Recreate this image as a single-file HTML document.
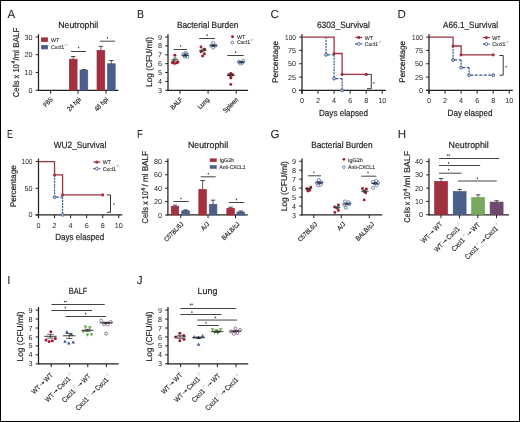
<!DOCTYPE html>
<html><head><meta charset="utf-8"><style>
html,body{margin:0;padding:0;background:#fff;}
body{width:520px;height:422px;overflow:hidden;}
svg{display:block;will-change:transform;font-family:"Liberation Sans",sans-serif;text-rendering:geometricPrecision;}

</style></head><body>
<svg width="520" height="422" viewBox="0 0 520 422" font-family="Liberation Sans, sans-serif">
<rect x="0" y="0" width="520" height="422" fill="#fff"/>
<rect x="0.5" y="0.5" width="519" height="421" fill="none" stroke="#000" stroke-width="1"/>
<text x="7.40" y="17.90" font-size="11.6" text-anchor="start" fill="#231f20" stroke="#231f20" stroke-width="0.05">A</text>
<text x="137.00" y="17.90" font-size="11.6" text-anchor="start" fill="#231f20" stroke="#231f20" textLength="7.00" lengthAdjust="spacingAndGlyphs" stroke-width="0.05">B</text>
<text x="270.40" y="17.90" font-size="11.6" text-anchor="start" fill="#231f20" stroke="#231f20" stroke-width="0.05">C</text>
<text x="397.60" y="17.90" font-size="11.6" text-anchor="start" fill="#231f20" stroke="#231f20" stroke-width="0.05">D</text>
<text x="7.00" y="137.90" font-size="11.6" text-anchor="start" fill="#231f20" stroke="#231f20" textLength="5.90" lengthAdjust="spacingAndGlyphs" stroke-width="0.05">E</text>
<text x="137.00" y="137.90" font-size="11.6" text-anchor="start" fill="#231f20" stroke="#231f20" textLength="5.80" lengthAdjust="spacingAndGlyphs" stroke-width="0.05">F</text>
<text x="270.40" y="137.90" font-size="11.6" text-anchor="start" fill="#231f20" stroke="#231f20" stroke-width="0.05">G</text>
<text x="397.80" y="137.90" font-size="11.6" text-anchor="start" fill="#231f20" stroke="#231f20" stroke-width="0.05">H</text>
<text x="7.20" y="283.70" font-size="11.6" text-anchor="start" fill="#231f20" stroke="#231f20" stroke-width="0.05">I</text>
<text x="136.80" y="283.70" font-size="11.6" text-anchor="start" fill="#231f20" stroke="#231f20" stroke-width="0.05">J</text>
<text x="58.20" y="28.40" font-size="9.1" text-anchor="start" fill="#231f20" stroke="#231f20" textLength="40.00" lengthAdjust="spacingAndGlyphs" stroke-width="0.2">Neutrophil</text>
<g transform="translate(19.00,97.20) rotate(-90)"><text x="0.00" y="0" font-size="8.5" fill="#231f20" stroke="#231f20" stroke-width="0.2" textLength="33.00" lengthAdjust="spacingAndGlyphs">Cells x 10</text><text x="33.60" y="-3.6" font-size="5.6" fill="#231f20" stroke="#231f20" stroke-width="0.2" textLength="2.90" lengthAdjust="spacingAndGlyphs">4</text><text x="36.70" y="0" font-size="8.5" fill="#231f20" stroke="#231f20" stroke-width="0.2" textLength="32.80" lengthAdjust="spacingAndGlyphs">/ml BALF</text></g>
<line x1="38.50" y1="34.30" x2="38.50" y2="90.90" stroke="#231f20" stroke-width="1.25" stroke-linecap="butt"/>
<line x1="35.70" y1="90.20" x2="38.50" y2="90.20" stroke="#231f20" stroke-width="1.0" stroke-linecap="butt"/>
<text x="32.50" y="92.75" font-size="7.2" text-anchor="end" fill="#231f20" stroke="#231f20" stroke-width="0.0">0</text>
<line x1="35.70" y1="72.45" x2="38.50" y2="72.45" stroke="#231f20" stroke-width="1.0" stroke-linecap="butt"/>
<text x="32.50" y="75.00" font-size="7.2" text-anchor="end" fill="#231f20" stroke="#231f20" stroke-width="0.0">10</text>
<line x1="35.70" y1="54.70" x2="38.50" y2="54.70" stroke="#231f20" stroke-width="1.0" stroke-linecap="butt"/>
<text x="32.50" y="57.25" font-size="7.2" text-anchor="end" fill="#231f20" stroke="#231f20" stroke-width="0.0">20</text>
<line x1="35.70" y1="36.95" x2="38.50" y2="36.95" stroke="#231f20" stroke-width="1.0" stroke-linecap="butt"/>
<text x="32.50" y="39.50" font-size="7.2" text-anchor="end" fill="#231f20" stroke="#231f20" stroke-width="0.0">30</text>
<line x1="38.00" y1="90.40" x2="118.50" y2="90.40" stroke="#231f20" stroke-width="1.25" stroke-linecap="butt"/>
<line x1="50.60" y1="90.40" x2="50.60" y2="93.70" stroke="#231f20" stroke-width="1.0" stroke-linecap="butt"/>
<line x1="78.00" y1="90.40" x2="78.00" y2="93.70" stroke="#231f20" stroke-width="1.0" stroke-linecap="butt"/>
<line x1="106.00" y1="90.40" x2="106.00" y2="93.70" stroke="#231f20" stroke-width="1.0" stroke-linecap="butt"/>
<rect x="69.30" y="59.15" width="7.80" height="31.05" fill="#a3303f" stroke="#98283a" stroke-width="0.6"/>
<line x1="73.20" y1="56.50" x2="73.20" y2="59.15" stroke="#231f20" stroke-width="0.7" stroke-linecap="butt"/>
<line x1="71.00" y1="56.50" x2="75.40" y2="56.50" stroke="#231f20" stroke-width="0.8" stroke-linecap="butt"/>
<rect x="80.00" y="70.05" width="7.80" height="20.15" fill="#4b6088" stroke="#435a82" stroke-width="0.6"/>
<line x1="83.90" y1="69.40" x2="83.90" y2="70.05" stroke="#231f20" stroke-width="0.7" stroke-linecap="butt"/>
<line x1="81.70" y1="69.40" x2="86.10" y2="69.40" stroke="#231f20" stroke-width="0.8" stroke-linecap="butt"/>
<rect x="97.00" y="50.35" width="7.80" height="39.85" fill="#a3303f" stroke="#98283a" stroke-width="0.6"/>
<line x1="100.90" y1="46.30" x2="100.90" y2="50.35" stroke="#231f20" stroke-width="0.7" stroke-linecap="butt"/>
<line x1="98.70" y1="46.30" x2="103.10" y2="46.30" stroke="#231f20" stroke-width="0.8" stroke-linecap="butt"/>
<rect x="107.40" y="63.75" width="7.80" height="26.45" fill="#4b6088" stroke="#435a82" stroke-width="0.6"/>
<line x1="111.30" y1="60.50" x2="111.30" y2="63.75" stroke="#231f20" stroke-width="0.7" stroke-linecap="butt"/>
<line x1="109.10" y1="60.50" x2="113.50" y2="60.50" stroke="#231f20" stroke-width="0.8" stroke-linecap="butt"/>
<line x1="71.00" y1="51.50" x2="86.00" y2="51.50" stroke="#3a3a3a" stroke-width="0.95" stroke-linecap="butt"/>
<ellipse cx="78.60" cy="47.60" rx="0.65" ry="0.85" fill="#333"/>
<line x1="100.00" y1="41.20" x2="115.00" y2="41.20" stroke="#3a3a3a" stroke-width="0.95" stroke-linecap="butt"/>
<ellipse cx="107.50" cy="37.80" rx="0.65" ry="0.85" fill="#333"/>
<rect x="41.10" y="37.40" width="6.80" height="4.50" fill="#a3303f"/>
<rect x="41.10" y="45.10" width="6.80" height="4.20" fill="#4b6088"/>
<text x="51.00" y="41.80" font-size="5.3" text-anchor="start" fill="#231f20" stroke="#231f20" stroke-width="0.1">WT</text>
<text x="51.00" y="48.90" font-size="5.3" text-anchor="start" fill="#231f20" stroke="#231f20" stroke-width="0.1">Cxcl1<tspan font-size="3.8" dy="-3.1" fill="#7a7a7a" stroke="none">-/-</tspan></text>
<text transform="translate(53.30,100.00) rotate(-45)" font-size="6.6" text-anchor="end" fill="#231f20" stroke="#231f20" textLength="10.57" lengthAdjust="spacingAndGlyphs" stroke-width="0.18">PBS</text>
<text transform="translate(81.40,100.00) rotate(-45)" font-size="6.6" text-anchor="end" fill="#231f20" stroke="#231f20" textLength="16.54" lengthAdjust="spacingAndGlyphs" stroke-width="0.18">24 hpi</text>
<text transform="translate(108.60,100.00) rotate(-45)" font-size="6.6" text-anchor="end" fill="#231f20" stroke="#231f20" textLength="16.54" lengthAdjust="spacingAndGlyphs" stroke-width="0.18">48 hpi</text>
<text x="176.90" y="28.40" font-size="9.1" text-anchor="start" fill="#231f20" stroke="#231f20" textLength="61.60" lengthAdjust="spacingAndGlyphs" stroke-width="0.2">Bacterial Burden</text>
<text transform="translate(152.30,62.00) rotate(-90)" font-size="8.5" text-anchor="middle" fill="#231f20" stroke="#231f20" textLength="50.00" lengthAdjust="spacingAndGlyphs" stroke-width="0.2">Log (CFU/ml)</text>
<line x1="168.00" y1="34.30" x2="168.00" y2="90.90" stroke="#231f20" stroke-width="1.25" stroke-linecap="butt"/>
<line x1="165.20" y1="90.30" x2="168.00" y2="90.30" stroke="#231f20" stroke-width="1.0" stroke-linecap="butt"/>
<text x="162.00" y="92.85" font-size="7.2" text-anchor="end" fill="#231f20" stroke="#231f20" stroke-width="0.0">3</text>
<line x1="165.20" y1="81.42" x2="168.00" y2="81.42" stroke="#231f20" stroke-width="1.0" stroke-linecap="butt"/>
<text x="162.00" y="83.97" font-size="7.2" text-anchor="end" fill="#231f20" stroke="#231f20" stroke-width="0.0">4</text>
<line x1="165.20" y1="72.54" x2="168.00" y2="72.54" stroke="#231f20" stroke-width="1.0" stroke-linecap="butt"/>
<text x="162.00" y="75.09" font-size="7.2" text-anchor="end" fill="#231f20" stroke="#231f20" stroke-width="0.0">5</text>
<line x1="165.20" y1="63.66" x2="168.00" y2="63.66" stroke="#231f20" stroke-width="1.0" stroke-linecap="butt"/>
<text x="162.00" y="66.21" font-size="7.2" text-anchor="end" fill="#231f20" stroke="#231f20" stroke-width="0.0">6</text>
<line x1="165.20" y1="54.78" x2="168.00" y2="54.78" stroke="#231f20" stroke-width="1.0" stroke-linecap="butt"/>
<text x="162.00" y="57.33" font-size="7.2" text-anchor="end" fill="#231f20" stroke="#231f20" stroke-width="0.0">7</text>
<line x1="165.20" y1="45.90" x2="168.00" y2="45.90" stroke="#231f20" stroke-width="1.0" stroke-linecap="butt"/>
<text x="162.00" y="48.45" font-size="7.2" text-anchor="end" fill="#231f20" stroke="#231f20" stroke-width="0.0">8</text>
<line x1="165.20" y1="37.02" x2="168.00" y2="37.02" stroke="#231f20" stroke-width="1.0" stroke-linecap="butt"/>
<text x="162.00" y="39.57" font-size="7.2" text-anchor="end" fill="#231f20" stroke="#231f20" stroke-width="0.0">9</text>
<line x1="167.50" y1="90.40" x2="248.10" y2="90.40" stroke="#231f20" stroke-width="1.25" stroke-linecap="butt"/>
<line x1="180.00" y1="90.40" x2="180.00" y2="93.70" stroke="#231f20" stroke-width="1.0" stroke-linecap="butt"/>
<line x1="208.10" y1="90.40" x2="208.10" y2="93.70" stroke="#231f20" stroke-width="1.0" stroke-linecap="butt"/>
<line x1="236.20" y1="90.40" x2="236.20" y2="93.70" stroke="#231f20" stroke-width="1.0" stroke-linecap="butt"/>
<text transform="translate(182.90,100.00) rotate(-45)" font-size="6.6" text-anchor="end" fill="#231f20" stroke="#231f20" textLength="14.03" lengthAdjust="spacingAndGlyphs" stroke-width="0.18">BALF</text>
<text transform="translate(209.70,100.00) rotate(-45)" font-size="6.6" text-anchor="end" fill="#231f20" stroke="#231f20" textLength="13.51" lengthAdjust="spacingAndGlyphs" stroke-width="0.18">Lung</text>
<text transform="translate(238.90,100.00) rotate(-45)" font-size="6.6" text-anchor="end" fill="#231f20" stroke="#231f20" textLength="18.91" lengthAdjust="spacingAndGlyphs" stroke-width="0.18">Spleen</text>
<circle cx="174.90" cy="55.20" r="1.45" fill="#a11a2e"/>
<circle cx="172.40" cy="62.80" r="1.45" fill="#a11a2e"/>
<circle cx="174.60" cy="63.60" r="1.45" fill="#a11a2e"/>
<circle cx="176.90" cy="62.90" r="1.45" fill="#a11a2e"/>
<circle cx="178.00" cy="61.90" r="1.45" fill="#a11a2e"/>
<circle cx="173.20" cy="61.80" r="1.45" fill="#a11a2e"/>
<line x1="171.50" y1="59.70" x2="178.30" y2="59.70" stroke="#2a3a32" stroke-width="0.9" stroke-linecap="butt"/>
<line x1="174.90" y1="57.90" x2="174.90" y2="61.20" stroke="#2a3a32" stroke-width="0.7" stroke-linecap="butt"/>
<line x1="172.90" y1="57.90" x2="176.90" y2="57.90" stroke="#2a3a32" stroke-width="0.7" stroke-linecap="butt"/>
<line x1="172.90" y1="61.20" x2="176.90" y2="61.20" stroke="#2a3a32" stroke-width="0.7" stroke-linecap="butt"/>
<circle cx="183.30" cy="54.40" r="1.55" fill="none" stroke="#3d5e93" stroke-width="0.7"/>
<circle cx="186.60" cy="54.00" r="1.55" fill="none" stroke="#3d5e93" stroke-width="0.7"/>
<circle cx="184.60" cy="56.60" r="1.55" fill="none" stroke="#3d5e93" stroke-width="0.7"/>
<circle cx="187.20" cy="56.80" r="1.55" fill="none" stroke="#3d5e93" stroke-width="0.7"/>
<circle cx="185.60" cy="53.00" r="1.55" fill="none" stroke="#3d5e93" stroke-width="0.7"/>
<line x1="181.60" y1="55.30" x2="188.80" y2="55.30" stroke="#1f2a40" stroke-width="0.9" stroke-linecap="butt"/>
<line x1="185.20" y1="54.40" x2="185.20" y2="56.20" stroke="#1f2a40" stroke-width="0.7" stroke-linecap="butt"/>
<line x1="183.20" y1="54.40" x2="187.20" y2="54.40" stroke="#1f2a40" stroke-width="0.7" stroke-linecap="butt"/>
<line x1="183.20" y1="56.20" x2="187.20" y2="56.20" stroke="#1f2a40" stroke-width="0.7" stroke-linecap="butt"/>
<line x1="173.70" y1="49.50" x2="187.00" y2="49.50" stroke="#3a3a3a" stroke-width="0.95" stroke-linecap="butt"/>
<ellipse cx="180.60" cy="45.80" rx="0.65" ry="0.85" fill="#333"/>
<circle cx="201.00" cy="46.90" r="1.45" fill="#a11a2e"/>
<circle cx="204.60" cy="49.20" r="1.45" fill="#a11a2e"/>
<circle cx="201.00" cy="51.80" r="1.45" fill="#a11a2e"/>
<circle cx="204.40" cy="53.90" r="1.45" fill="#a11a2e"/>
<circle cx="202.60" cy="56.00" r="1.45" fill="#a11a2e"/>
<line x1="199.20" y1="50.40" x2="206.40" y2="50.40" stroke="#2a3a32" stroke-width="0.9" stroke-linecap="butt"/>
<line x1="202.80" y1="49.00" x2="202.80" y2="51.80" stroke="#2a3a32" stroke-width="0.7" stroke-linecap="butt"/>
<line x1="200.80" y1="49.00" x2="204.80" y2="49.00" stroke="#2a3a32" stroke-width="0.7" stroke-linecap="butt"/>
<line x1="200.80" y1="51.80" x2="204.80" y2="51.80" stroke="#2a3a32" stroke-width="0.7" stroke-linecap="butt"/>
<circle cx="213.20" cy="42.90" r="1.55" fill="none" stroke="#3d5e93" stroke-width="0.7"/>
<circle cx="211.20" cy="45.60" r="1.55" fill="none" stroke="#3d5e93" stroke-width="0.7"/>
<circle cx="215.60" cy="45.60" r="1.55" fill="none" stroke="#3d5e93" stroke-width="0.7"/>
<circle cx="213.20" cy="47.60" r="1.55" fill="none" stroke="#3d5e93" stroke-width="0.7"/>
<line x1="209.90" y1="45.60" x2="217.10" y2="45.60" stroke="#1f2a40" stroke-width="0.9" stroke-linecap="butt"/>
<line x1="213.50" y1="44.80" x2="213.50" y2="46.40" stroke="#1f2a40" stroke-width="0.7" stroke-linecap="butt"/>
<line x1="211.50" y1="44.80" x2="215.50" y2="44.80" stroke="#1f2a40" stroke-width="0.7" stroke-linecap="butt"/>
<line x1="211.50" y1="46.40" x2="215.50" y2="46.40" stroke="#1f2a40" stroke-width="0.7" stroke-linecap="butt"/>
<line x1="199.20" y1="38.50" x2="215.00" y2="38.50" stroke="#3a3a3a" stroke-width="0.95" stroke-linecap="butt"/>
<ellipse cx="207.20" cy="35.20" rx="0.65" ry="0.85" fill="#333"/>
<circle cx="230.80" cy="73.40" r="1.45" fill="#a11a2e"/>
<circle cx="228.90" cy="74.60" r="1.45" fill="#a11a2e"/>
<circle cx="232.70" cy="74.60" r="1.45" fill="#a11a2e"/>
<circle cx="230.80" cy="78.00" r="1.45" fill="#a11a2e"/>
<circle cx="230.80" cy="84.40" r="1.45" fill="#a11a2e"/>
<line x1="227.00" y1="75.50" x2="234.60" y2="75.50" stroke="#2a2a2a" stroke-width="0.9" stroke-linecap="butt"/>
<line x1="230.80" y1="74.20" x2="230.80" y2="76.80" stroke="#2a2a2a" stroke-width="0.7" stroke-linecap="butt"/>
<line x1="228.80" y1="74.20" x2="232.80" y2="74.20" stroke="#2a2a2a" stroke-width="0.7" stroke-linecap="butt"/>
<line x1="228.80" y1="76.80" x2="232.80" y2="76.80" stroke="#2a2a2a" stroke-width="0.7" stroke-linecap="butt"/>
<circle cx="238.80" cy="61.70" r="1.55" fill="none" stroke="#3d5e93" stroke-width="0.7"/>
<circle cx="243.30" cy="60.90" r="1.55" fill="none" stroke="#3d5e93" stroke-width="0.7"/>
<circle cx="240.30" cy="63.60" r="1.55" fill="none" stroke="#3d5e93" stroke-width="0.7"/>
<circle cx="242.30" cy="62.80" r="1.55" fill="none" stroke="#3d5e93" stroke-width="0.7"/>
<line x1="237.60" y1="62.10" x2="244.80" y2="62.10" stroke="#1f2a40" stroke-width="0.9" stroke-linecap="butt"/>
<line x1="241.20" y1="61.40" x2="241.20" y2="62.80" stroke="#1f2a40" stroke-width="0.7" stroke-linecap="butt"/>
<line x1="239.20" y1="61.40" x2="243.20" y2="61.40" stroke="#1f2a40" stroke-width="0.7" stroke-linecap="butt"/>
<line x1="239.20" y1="62.80" x2="243.20" y2="62.80" stroke="#1f2a40" stroke-width="0.7" stroke-linecap="butt"/>
<line x1="227.30" y1="55.50" x2="243.70" y2="55.50" stroke="#3a3a3a" stroke-width="0.95" stroke-linecap="butt"/>
<ellipse cx="235.60" cy="52.20" rx="0.65" ry="0.85" fill="#333"/>
<circle cx="232.50" cy="36.80" r="1.45" fill="#a11a2e"/>
<text x="236.90" y="38.90" font-size="5.3" text-anchor="start" fill="#231f20" stroke="#231f20" stroke-width="0.1">WT</text>
<circle cx="232.30" cy="42.60" r="1.4" fill="none" stroke="#3d5e93" stroke-width="0.75"/>
<text x="236.90" y="44.30" font-size="5.3" text-anchor="start" fill="#231f20" stroke="#231f20" stroke-width="0.1">Cxcl1<tspan font-size="3.8" dy="-3.1" fill="#7a7a7a" stroke="none">-/-</tspan></text>
<text transform="translate(278.00,61.90) rotate(-90)" font-size="8.2" text-anchor="middle" fill="#231f20" stroke="#231f20" textLength="42.00" lengthAdjust="spacingAndGlyphs" stroke-width="0.2">Percentage</text>
<text x="316.90" y="28.40" font-size="9.1" text-anchor="start" fill="#231f20" stroke="#231f20" textLength="53.00" lengthAdjust="spacingAndGlyphs" stroke-width="0.2">6303_Survival</text>
<line x1="302.00" y1="34.20" x2="302.00" y2="93.70" stroke="#231f20" stroke-width="1.25" stroke-linecap="butt"/>
<line x1="299.20" y1="90.40" x2="302.00" y2="90.40" stroke="#231f20" stroke-width="1.0" stroke-linecap="butt"/>
<text x="296.00" y="92.95" font-size="7.2" text-anchor="end" fill="#231f20" stroke="#231f20" stroke-width="0.0">0</text>
<line x1="299.20" y1="77.08" x2="302.00" y2="77.08" stroke="#231f20" stroke-width="1.0" stroke-linecap="butt"/>
<text x="296.00" y="79.62" font-size="7.2" text-anchor="end" fill="#231f20" stroke="#231f20" stroke-width="0.0">25</text>
<line x1="299.20" y1="63.75" x2="302.00" y2="63.75" stroke="#231f20" stroke-width="1.0" stroke-linecap="butt"/>
<text x="296.00" y="66.30" font-size="7.2" text-anchor="end" fill="#231f20" stroke="#231f20" stroke-width="0.0">50</text>
<line x1="299.20" y1="50.43" x2="302.00" y2="50.43" stroke="#231f20" stroke-width="1.0" stroke-linecap="butt"/>
<text x="296.00" y="52.98" font-size="7.2" text-anchor="end" fill="#231f20" stroke="#231f20" stroke-width="0.0">75</text>
<line x1="299.20" y1="37.10" x2="302.00" y2="37.10" stroke="#231f20" stroke-width="1.0" stroke-linecap="butt"/>
<text x="296.00" y="39.65" font-size="7.2" text-anchor="end" fill="#231f20" stroke="#231f20" textLength="10.90" lengthAdjust="spacingAndGlyphs" stroke-width="0.0">100</text>
<line x1="299.00" y1="90.40" x2="385.80" y2="90.40" stroke="#231f20" stroke-width="1.25" stroke-linecap="butt"/>
<line x1="302.00" y1="90.40" x2="302.00" y2="93.70" stroke="#231f20" stroke-width="1.0" stroke-linecap="butt"/>
<text x="302.00" y="103.30" font-size="7.2" text-anchor="middle" fill="#231f20" stroke="#231f20" stroke-width="0.0">0</text>
<line x1="318.05" y1="90.40" x2="318.05" y2="93.70" stroke="#231f20" stroke-width="1.0" stroke-linecap="butt"/>
<text x="318.05" y="103.30" font-size="7.2" text-anchor="middle" fill="#231f20" stroke="#231f20" stroke-width="0.0">2</text>
<line x1="334.10" y1="90.40" x2="334.10" y2="93.70" stroke="#231f20" stroke-width="1.0" stroke-linecap="butt"/>
<text x="334.10" y="103.30" font-size="7.2" text-anchor="middle" fill="#231f20" stroke="#231f20" stroke-width="0.0">4</text>
<line x1="350.15" y1="90.40" x2="350.15" y2="93.70" stroke="#231f20" stroke-width="1.0" stroke-linecap="butt"/>
<text x="350.15" y="103.30" font-size="7.2" text-anchor="middle" fill="#231f20" stroke="#231f20" stroke-width="0.0">6</text>
<line x1="366.20" y1="90.40" x2="366.20" y2="93.70" stroke="#231f20" stroke-width="1.0" stroke-linecap="butt"/>
<text x="366.20" y="103.30" font-size="7.2" text-anchor="middle" fill="#231f20" stroke="#231f20" stroke-width="0.0">8</text>
<line x1="382.25" y1="90.40" x2="382.25" y2="93.70" stroke="#231f20" stroke-width="1.0" stroke-linecap="butt"/>
<text x="382.25" y="103.30" font-size="7.2" text-anchor="middle" fill="#231f20" stroke="#231f20" stroke-width="0.0">10</text>
<text x="319.00" y="115.70" font-size="9.1" text-anchor="start" fill="#231f20" stroke="#231f20" textLength="49.00" lengthAdjust="spacingAndGlyphs" stroke-width="0.2">Days elapsed</text>
<path d="M326.07,37.10 L326.07,54.85" fill="none" stroke="#385787" stroke-width="1.2" stroke-dasharray="2.0,0.9" stroke-dashoffset="0"/>
<path d="M326.07,54.85 L334.10,54.85" fill="none" stroke="#385787" stroke-width="1.2" stroke-dasharray="3.0,1.5" stroke-dashoffset="-1.2"/>
<path d="M334.10,54.85 L334.10,78.57" fill="none" stroke="#385787" stroke-width="1.2" stroke-dasharray="2.0,0.9" stroke-dashoffset="0"/>
<path d="M334.10,78.57 L342.12,78.57" fill="none" stroke="#385787" stroke-width="1.2" stroke-dasharray="3.0,1.5" stroke-dashoffset="-1.2"/>
<path d="M342.12,78.57 L342.12,90.40" fill="none" stroke="#385787" stroke-width="1.2" stroke-dasharray="2.0,0.9" stroke-dashoffset="0"/>
<path d="M302.00,37.10 H334.10 V53.52 H342.12 V74.41 H366.20" fill="none" stroke="#a3303f" stroke-width="1.3"/>
<circle cx="334.10" cy="53.52" r="1.55" fill="#a3303f"/>
<circle cx="342.12" cy="74.41" r="1.55" fill="#a3303f"/>
<circle cx="366.20" cy="74.41" r="1.55" fill="#a3303f"/>
<circle cx="326.07" cy="54.85" r="1.45" fill="#c8d0de" stroke="#385787" stroke-width="0.9"/>
<circle cx="334.10" cy="78.57" r="1.45" fill="#c8d0de" stroke="#385787" stroke-width="0.9"/>
<circle cx="342.12" cy="90.40" r="1.45" fill="#c8d0de" stroke="#385787" stroke-width="0.9"/>
<path d="M367.00,74.40 H371.30 V88.70 H367.00" fill="none" stroke="#231f20" stroke-width="0.9"/>
<ellipse cx="373.80" cy="82.80" rx="0.65" ry="0.85" fill="#333"/>
<line x1="355.30" y1="37.40" x2="362.30" y2="37.40" stroke="#a3303f" stroke-width="1.2" stroke-linecap="butt"/>
<circle cx="358.80" cy="37.40" r="1.6" fill="#a3303f"/>
<text x="364.70" y="39.60" font-size="5.3" text-anchor="start" fill="#231f20" stroke="#231f20" stroke-width="0.1">WT</text>
<line x1="355.30" y1="43.90" x2="362.30" y2="43.90" stroke="#385787" stroke-width="1.2" stroke-linecap="butt" stroke-dasharray="2.2,0.7"/>
<circle cx="358.80" cy="43.90" r="1.45" fill="#fff" stroke="#385787" stroke-width="0.85"/>
<text x="364.70" y="45.80" font-size="5.3" text-anchor="start" fill="#231f20" stroke="#231f20" stroke-width="0.1">Cxcl1<tspan font-size="3.8" dy="-3.1" fill="#7a7a7a" stroke="none">-/-</tspan></text>
<text transform="translate(405.20,61.90) rotate(-90)" font-size="8.2" text-anchor="middle" fill="#231f20" stroke="#231f20" textLength="41.80" lengthAdjust="spacingAndGlyphs" stroke-width="0.2">Percentage</text>
<text x="443.10" y="28.40" font-size="9.1" text-anchor="start" fill="#231f20" stroke="#231f20" textLength="55.00" lengthAdjust="spacingAndGlyphs" stroke-width="0.2">A66.1_Survival</text>
<line x1="429.00" y1="34.20" x2="429.00" y2="93.70" stroke="#231f20" stroke-width="1.25" stroke-linecap="butt"/>
<line x1="426.20" y1="90.40" x2="429.00" y2="90.40" stroke="#231f20" stroke-width="1.0" stroke-linecap="butt"/>
<text x="423.00" y="92.95" font-size="7.2" text-anchor="end" fill="#231f20" stroke="#231f20" stroke-width="0.0">0</text>
<line x1="426.20" y1="77.08" x2="429.00" y2="77.08" stroke="#231f20" stroke-width="1.0" stroke-linecap="butt"/>
<text x="423.00" y="79.62" font-size="7.2" text-anchor="end" fill="#231f20" stroke="#231f20" stroke-width="0.0">25</text>
<line x1="426.20" y1="63.75" x2="429.00" y2="63.75" stroke="#231f20" stroke-width="1.0" stroke-linecap="butt"/>
<text x="423.00" y="66.30" font-size="7.2" text-anchor="end" fill="#231f20" stroke="#231f20" stroke-width="0.0">50</text>
<line x1="426.20" y1="50.43" x2="429.00" y2="50.43" stroke="#231f20" stroke-width="1.0" stroke-linecap="butt"/>
<text x="423.00" y="52.98" font-size="7.2" text-anchor="end" fill="#231f20" stroke="#231f20" stroke-width="0.0">75</text>
<line x1="426.20" y1="37.10" x2="429.00" y2="37.10" stroke="#231f20" stroke-width="1.0" stroke-linecap="butt"/>
<text x="423.00" y="39.65" font-size="7.2" text-anchor="end" fill="#231f20" stroke="#231f20" textLength="10.90" lengthAdjust="spacingAndGlyphs" stroke-width="0.0">100</text>
<line x1="426.00" y1="90.40" x2="512.80" y2="90.40" stroke="#231f20" stroke-width="1.25" stroke-linecap="butt"/>
<line x1="429.00" y1="90.40" x2="429.00" y2="93.70" stroke="#231f20" stroke-width="1.0" stroke-linecap="butt"/>
<text x="429.00" y="103.30" font-size="7.2" text-anchor="middle" fill="#231f20" stroke="#231f20" stroke-width="0.0">0</text>
<line x1="445.05" y1="90.40" x2="445.05" y2="93.70" stroke="#231f20" stroke-width="1.0" stroke-linecap="butt"/>
<text x="445.05" y="103.30" font-size="7.2" text-anchor="middle" fill="#231f20" stroke="#231f20" stroke-width="0.0">2</text>
<line x1="461.10" y1="90.40" x2="461.10" y2="93.70" stroke="#231f20" stroke-width="1.0" stroke-linecap="butt"/>
<text x="461.10" y="103.30" font-size="7.2" text-anchor="middle" fill="#231f20" stroke="#231f20" stroke-width="0.0">4</text>
<line x1="477.15" y1="90.40" x2="477.15" y2="93.70" stroke="#231f20" stroke-width="1.0" stroke-linecap="butt"/>
<text x="477.15" y="103.30" font-size="7.2" text-anchor="middle" fill="#231f20" stroke="#231f20" stroke-width="0.0">6</text>
<line x1="493.20" y1="90.40" x2="493.20" y2="93.70" stroke="#231f20" stroke-width="1.0" stroke-linecap="butt"/>
<text x="493.20" y="103.30" font-size="7.2" text-anchor="middle" fill="#231f20" stroke="#231f20" stroke-width="0.0">8</text>
<line x1="509.25" y1="90.40" x2="509.25" y2="93.70" stroke="#231f20" stroke-width="1.0" stroke-linecap="butt"/>
<text x="509.25" y="103.30" font-size="7.2" text-anchor="middle" fill="#231f20" stroke="#231f20" stroke-width="0.0">10</text>
<text x="447.60" y="115.70" font-size="9.1" text-anchor="start" fill="#231f20" stroke="#231f20" textLength="45.00" lengthAdjust="spacingAndGlyphs" stroke-width="0.2">Day elasped</text>
<path d="M453.07,46.00 L453.07,59.97" fill="none" stroke="#385787" stroke-width="1.2" stroke-dasharray="2.0,0.9" stroke-dashoffset="0"/>
<path d="M453.07,59.97 L461.10,59.97" fill="none" stroke="#385787" stroke-width="1.2" stroke-dasharray="3.0,1.5" stroke-dashoffset="-1.2"/>
<path d="M461.10,59.97 L461.10,67.53" fill="none" stroke="#385787" stroke-width="1.2" stroke-dasharray="2.0,0.9" stroke-dashoffset="0"/>
<path d="M461.10,67.53 L469.12,67.53" fill="none" stroke="#385787" stroke-width="1.2" stroke-dasharray="3.0,1.5" stroke-dashoffset="-1.2"/>
<path d="M469.12,67.53 L469.12,75.16" fill="none" stroke="#385787" stroke-width="1.2" stroke-dasharray="2.0,0.9" stroke-dashoffset="0"/>
<path d="M469.12,75.16 L493.20,75.16" fill="none" stroke="#385787" stroke-width="1.2" stroke-dasharray="3.0,1.5" stroke-dashoffset="-1.2"/>
<path d="M429.00,37.10 H453.07 V46.00 H461.10 V54.85 H493.20" fill="none" stroke="#a3303f" stroke-width="1.3"/>
<circle cx="453.07" cy="46.00" r="1.55" fill="#a3303f"/>
<circle cx="461.10" cy="54.85" r="1.55" fill="#a3303f"/>
<circle cx="493.20" cy="54.85" r="1.55" fill="#a3303f"/>
<circle cx="453.07" cy="59.97" r="1.45" fill="#c8d0de" stroke="#385787" stroke-width="0.9"/>
<circle cx="461.10" cy="67.53" r="1.45" fill="#c8d0de" stroke="#385787" stroke-width="0.9"/>
<circle cx="469.12" cy="75.16" r="1.45" fill="#c8d0de" stroke="#385787" stroke-width="0.9"/>
<circle cx="493.20" cy="75.16" r="1.45" fill="#c8d0de" stroke="#385787" stroke-width="0.9"/>
<path d="M499.40,55.50 H503.20 V75.20 H499.40" fill="none" stroke="#231f20" stroke-width="0.9"/>
<ellipse cx="506.10" cy="66.70" rx="0.65" ry="0.85" fill="#333"/>
<line x1="482.80" y1="37.60" x2="489.80" y2="37.60" stroke="#a3303f" stroke-width="1.2" stroke-linecap="butt"/>
<circle cx="486.30" cy="37.60" r="1.6" fill="#a3303f"/>
<text x="492.20" y="39.80" font-size="5.3" text-anchor="start" fill="#231f20" stroke="#231f20" stroke-width="0.1">WT</text>
<line x1="482.80" y1="44.10" x2="489.80" y2="44.10" stroke="#385787" stroke-width="1.2" stroke-linecap="butt" stroke-dasharray="2.2,0.7"/>
<circle cx="486.30" cy="44.10" r="1.45" fill="#fff" stroke="#385787" stroke-width="0.85"/>
<text x="492.20" y="46.00" font-size="5.3" text-anchor="start" fill="#231f20" stroke="#231f20" stroke-width="0.1">Cxcl1<tspan font-size="3.8" dy="-3.1" fill="#7a7a7a" stroke="none">-/-</tspan></text>
<text transform="translate(15.90,186.20) rotate(-90)" font-size="8.2" text-anchor="middle" fill="#231f20" stroke="#231f20" textLength="42.00" lengthAdjust="spacingAndGlyphs" stroke-width="0.2">Percentage</text>
<text x="53.80" y="148.30" font-size="9.1" text-anchor="start" fill="#231f20" stroke="#231f20" textLength="52.50" lengthAdjust="spacingAndGlyphs" stroke-width="0.2">WU2_Survival</text>
<line x1="38.50" y1="158.70" x2="38.50" y2="218.20" stroke="#231f20" stroke-width="1.25" stroke-linecap="butt"/>
<line x1="35.70" y1="214.90" x2="38.50" y2="214.90" stroke="#231f20" stroke-width="1.0" stroke-linecap="butt"/>
<text x="32.50" y="217.45" font-size="7.2" text-anchor="end" fill="#231f20" stroke="#231f20" stroke-width="0.0">0</text>
<line x1="35.70" y1="188.25" x2="38.50" y2="188.25" stroke="#231f20" stroke-width="1.0" stroke-linecap="butt"/>
<text x="32.50" y="190.80" font-size="7.2" text-anchor="end" fill="#231f20" stroke="#231f20" stroke-width="0.0">50</text>
<line x1="35.70" y1="161.60" x2="38.50" y2="161.60" stroke="#231f20" stroke-width="1.0" stroke-linecap="butt"/>
<text x="32.50" y="164.15" font-size="7.2" text-anchor="end" fill="#231f20" stroke="#231f20" textLength="10.90" lengthAdjust="spacingAndGlyphs" stroke-width="0.0">100</text>
<line x1="35.50" y1="214.90" x2="122.30" y2="214.90" stroke="#231f20" stroke-width="1.25" stroke-linecap="butt"/>
<line x1="38.50" y1="214.90" x2="38.50" y2="218.20" stroke="#231f20" stroke-width="1.0" stroke-linecap="butt"/>
<text x="38.50" y="227.80" font-size="7.2" text-anchor="middle" fill="#231f20" stroke="#231f20" stroke-width="0.0">0</text>
<line x1="54.55" y1="214.90" x2="54.55" y2="218.20" stroke="#231f20" stroke-width="1.0" stroke-linecap="butt"/>
<text x="54.55" y="227.80" font-size="7.2" text-anchor="middle" fill="#231f20" stroke="#231f20" stroke-width="0.0">2</text>
<line x1="70.60" y1="214.90" x2="70.60" y2="218.20" stroke="#231f20" stroke-width="1.0" stroke-linecap="butt"/>
<text x="70.60" y="227.80" font-size="7.2" text-anchor="middle" fill="#231f20" stroke="#231f20" stroke-width="0.0">4</text>
<line x1="86.65" y1="214.90" x2="86.65" y2="218.20" stroke="#231f20" stroke-width="1.0" stroke-linecap="butt"/>
<text x="86.65" y="227.80" font-size="7.2" text-anchor="middle" fill="#231f20" stroke="#231f20" stroke-width="0.0">6</text>
<line x1="102.70" y1="214.90" x2="102.70" y2="218.20" stroke="#231f20" stroke-width="1.0" stroke-linecap="butt"/>
<text x="102.70" y="227.80" font-size="7.2" text-anchor="middle" fill="#231f20" stroke="#231f20" stroke-width="0.0">8</text>
<line x1="118.75" y1="214.90" x2="118.75" y2="218.20" stroke="#231f20" stroke-width="1.0" stroke-linecap="butt"/>
<text x="118.75" y="227.80" font-size="7.2" text-anchor="middle" fill="#231f20" stroke="#231f20" stroke-width="0.0">10</text>
<text x="55.20" y="240.20" font-size="9.1" text-anchor="start" fill="#231f20" stroke="#231f20" textLength="49.00" lengthAdjust="spacingAndGlyphs" stroke-width="0.2">Days elasped</text>
<path d="M54.55,174.93 L54.55,197.15" fill="none" stroke="#385787" stroke-width="1.2" stroke-dasharray="2.0,0.9" stroke-dashoffset="0"/>
<path d="M54.55,197.15 L62.58,197.15" fill="none" stroke="#385787" stroke-width="1.2" stroke-dasharray="3.0,1.5" stroke-dashoffset="-1.2"/>
<path d="M62.58,197.15 L62.58,214.90" fill="none" stroke="#385787" stroke-width="1.2" stroke-dasharray="2.0,0.9" stroke-dashoffset="0"/>
<path d="M38.50,161.60 H54.55 V174.93 H62.58 V194.91 H102.70" fill="none" stroke="#a3303f" stroke-width="1.3"/>
<circle cx="54.55" cy="174.93" r="1.55" fill="#a3303f"/>
<circle cx="62.58" cy="194.91" r="1.55" fill="#a3303f"/>
<circle cx="102.70" cy="194.91" r="1.55" fill="#a3303f"/>
<circle cx="54.55" cy="197.15" r="1.45" fill="#c8d0de" stroke="#385787" stroke-width="0.9"/>
<circle cx="62.58" cy="214.90" r="1.45" fill="#c8d0de" stroke="#385787" stroke-width="0.9"/>
<path d="M106.90,194.90 H110.50 V212.30 H106.90" fill="none" stroke="#231f20" stroke-width="0.9"/>
<ellipse cx="113.90" cy="203.80" rx="0.65" ry="0.85" fill="#333"/>
<line x1="93.30" y1="162.10" x2="100.30" y2="162.10" stroke="#a3303f" stroke-width="1.2" stroke-linecap="butt"/>
<circle cx="96.80" cy="162.10" r="1.6" fill="#a3303f"/>
<text x="102.70" y="164.30" font-size="5.3" text-anchor="start" fill="#231f20" stroke="#231f20" stroke-width="0.1">WT</text>
<line x1="93.30" y1="168.60" x2="100.30" y2="168.60" stroke="#385787" stroke-width="1.2" stroke-linecap="butt" stroke-dasharray="2.2,0.7"/>
<circle cx="96.80" cy="168.60" r="1.45" fill="#fff" stroke="#385787" stroke-width="0.85"/>
<text x="102.70" y="170.50" font-size="5.3" text-anchor="start" fill="#231f20" stroke="#231f20" stroke-width="0.1">Cxcl1<tspan font-size="3.8" dy="-3.1" fill="#7a7a7a" stroke="none">-/-</tspan></text>
<text x="187.90" y="148.30" font-size="9.1" text-anchor="start" fill="#231f20" stroke="#231f20" textLength="40.30" lengthAdjust="spacingAndGlyphs" stroke-width="0.2">Neutrophil</text>
<g transform="translate(148.20,223.40) rotate(-90)"><text x="0.00" y="0" font-size="8.5" fill="#231f20" stroke="#231f20" stroke-width="0.2" textLength="32.20" lengthAdjust="spacingAndGlyphs">Cells x 10</text><text x="32.60" y="-3.6" font-size="5.6" fill="#231f20" stroke="#231f20" stroke-width="0.2" textLength="3.00" lengthAdjust="spacingAndGlyphs">4</text><text x="36.80" y="0" font-size="8.5" fill="#231f20" stroke="#231f20" stroke-width="0.2" textLength="35.60" lengthAdjust="spacingAndGlyphs">/ ml BALF</text></g>
<line x1="167.90" y1="158.60" x2="167.90" y2="215.40" stroke="#231f20" stroke-width="1.25" stroke-linecap="butt"/>
<line x1="165.10" y1="215.00" x2="167.90" y2="215.00" stroke="#231f20" stroke-width="1.0" stroke-linecap="butt"/>
<text x="161.90" y="217.55" font-size="7.2" text-anchor="end" fill="#231f20" stroke="#231f20" stroke-width="0.0">0</text>
<line x1="165.10" y1="201.60" x2="167.90" y2="201.60" stroke="#231f20" stroke-width="1.0" stroke-linecap="butt"/>
<text x="161.90" y="204.15" font-size="7.2" text-anchor="end" fill="#231f20" stroke="#231f20" stroke-width="0.0">20</text>
<line x1="165.10" y1="188.20" x2="167.90" y2="188.20" stroke="#231f20" stroke-width="1.0" stroke-linecap="butt"/>
<text x="161.90" y="190.75" font-size="7.2" text-anchor="end" fill="#231f20" stroke="#231f20" stroke-width="0.0">40</text>
<line x1="165.10" y1="174.80" x2="167.90" y2="174.80" stroke="#231f20" stroke-width="1.0" stroke-linecap="butt"/>
<text x="161.90" y="177.35" font-size="7.2" text-anchor="end" fill="#231f20" stroke="#231f20" stroke-width="0.0">60</text>
<line x1="165.10" y1="161.40" x2="167.90" y2="161.40" stroke="#231f20" stroke-width="1.0" stroke-linecap="butt"/>
<text x="161.90" y="163.95" font-size="7.2" text-anchor="end" fill="#231f20" stroke="#231f20" stroke-width="0.0">80</text>
<line x1="167.40" y1="214.90" x2="247.80" y2="214.90" stroke="#231f20" stroke-width="1.25" stroke-linecap="butt"/>
<line x1="180.80" y1="214.90" x2="180.80" y2="218.20" stroke="#231f20" stroke-width="1.0" stroke-linecap="butt"/>
<line x1="208.00" y1="214.90" x2="208.00" y2="218.20" stroke="#231f20" stroke-width="1.0" stroke-linecap="butt"/>
<line x1="235.50" y1="214.90" x2="235.50" y2="218.20" stroke="#231f20" stroke-width="1.0" stroke-linecap="butt"/>
<rect x="171.20" y="206.25" width="7.50" height="8.75" fill="#a3303f" stroke="#98283a" stroke-width="0.6"/>
<line x1="174.95" y1="205.10" x2="174.95" y2="206.25" stroke="#231f20" stroke-width="0.7" stroke-linecap="butt"/>
<line x1="172.75" y1="205.10" x2="177.15" y2="205.10" stroke="#231f20" stroke-width="0.8" stroke-linecap="butt"/>
<rect x="181.70" y="210.75" width="7.70" height="4.25" fill="#4b6088" stroke="#435a82" stroke-width="0.6"/>
<line x1="185.55" y1="209.90" x2="185.55" y2="210.75" stroke="#231f20" stroke-width="0.7" stroke-linecap="butt"/>
<line x1="183.35" y1="209.90" x2="187.75" y2="209.90" stroke="#231f20" stroke-width="0.8" stroke-linecap="butt"/>
<rect x="198.80" y="189.35" width="7.60" height="25.65" fill="#a3303f" stroke="#98283a" stroke-width="0.6"/>
<line x1="202.60" y1="180.50" x2="202.60" y2="189.35" stroke="#231f20" stroke-width="0.7" stroke-linecap="butt"/>
<line x1="200.40" y1="180.50" x2="204.80" y2="180.50" stroke="#231f20" stroke-width="0.8" stroke-linecap="butt"/>
<rect x="209.20" y="204.25" width="7.70" height="10.75" fill="#4b6088" stroke="#435a82" stroke-width="0.6"/>
<line x1="213.05" y1="200.20" x2="213.05" y2="204.25" stroke="#231f20" stroke-width="0.7" stroke-linecap="butt"/>
<line x1="210.85" y1="200.20" x2="215.25" y2="200.20" stroke="#231f20" stroke-width="0.8" stroke-linecap="butt"/>
<rect x="226.80" y="208.35" width="7.60" height="6.65" fill="#a3303f" stroke="#98283a" stroke-width="0.6"/>
<line x1="230.60" y1="207.20" x2="230.60" y2="208.35" stroke="#231f20" stroke-width="0.7" stroke-linecap="butt"/>
<line x1="228.40" y1="207.20" x2="232.80" y2="207.20" stroke="#231f20" stroke-width="0.8" stroke-linecap="butt"/>
<rect x="236.90" y="211.95" width="7.70" height="3.05" fill="#4b6088" stroke="#435a82" stroke-width="0.6"/>
<line x1="240.75" y1="211.00" x2="240.75" y2="211.95" stroke="#231f20" stroke-width="0.7" stroke-linecap="butt"/>
<line x1="238.55" y1="211.00" x2="242.95" y2="211.00" stroke="#231f20" stroke-width="0.8" stroke-linecap="butt"/>
<line x1="173.40" y1="201.50" x2="188.60" y2="201.50" stroke="#3a3a3a" stroke-width="0.95" stroke-linecap="butt"/>
<ellipse cx="181.00" cy="198.50" rx="0.65" ry="0.85" fill="#333"/>
<line x1="200.60" y1="176.80" x2="215.60" y2="176.80" stroke="#3a3a3a" stroke-width="0.95" stroke-linecap="butt"/>
<ellipse cx="208.30" cy="173.60" rx="0.65" ry="0.85" fill="#333"/>
<line x1="228.70" y1="202.50" x2="244.20" y2="202.50" stroke="#3a3a3a" stroke-width="0.95" stroke-linecap="butt"/>
<ellipse cx="236.40" cy="199.40" rx="0.65" ry="0.85" fill="#333"/>
<rect x="209.80" y="158.40" width="6.90" height="3.50" fill="#a3303f"/>
<text x="219.60" y="161.90" font-size="5.3" text-anchor="start" fill="#231f20" stroke="#231f20" textLength="14.60" lengthAdjust="spacingAndGlyphs" stroke-width="0.1">IgG2b</text>
<rect x="209.80" y="165.20" width="6.90" height="3.60" fill="#4b6088"/>
<text x="219.60" y="168.90" font-size="5.3" text-anchor="start" fill="#231f20" stroke="#231f20" textLength="25.80" lengthAdjust="spacingAndGlyphs" stroke-width="0.1">Anti-CXCL1</text>
<text transform="translate(183.90,224.70) rotate(-45)" font-size="6.6" text-anchor="end" fill="#231f20" stroke="#231f20" textLength="24.35" lengthAdjust="spacingAndGlyphs" stroke-width="0.18">C57BL/6J</text>
<text transform="translate(209.80,224.70) rotate(-45)" font-size="6.6" text-anchor="end" fill="#231f20" stroke="#231f20" textLength="8.77" lengthAdjust="spacingAndGlyphs" stroke-width="0.18">A/J</text>
<text transform="translate(240.10,224.70) rotate(-45)" font-size="6.6" text-anchor="end" fill="#231f20" stroke="#231f20" textLength="22.27" lengthAdjust="spacingAndGlyphs" stroke-width="0.18">BALB/cJ</text>
<text x="311.20" y="148.30" font-size="9.1" text-anchor="start" fill="#231f20" stroke="#231f20" textLength="61.40" lengthAdjust="spacingAndGlyphs" stroke-width="0.2">Bacterial Burden</text>
<text transform="translate(286.60,186.20) rotate(-90)" font-size="8.5" text-anchor="middle" fill="#231f20" stroke="#231f20" textLength="50.00" lengthAdjust="spacingAndGlyphs" stroke-width="0.2">Log (CFU/ml)</text>
<line x1="302.00" y1="158.60" x2="302.00" y2="215.40" stroke="#231f20" stroke-width="1.25" stroke-linecap="butt"/>
<line x1="299.20" y1="215.00" x2="302.00" y2="215.00" stroke="#231f20" stroke-width="1.0" stroke-linecap="butt"/>
<text x="296.00" y="217.55" font-size="7.2" text-anchor="end" fill="#231f20" stroke="#231f20" stroke-width="0.0">3</text>
<line x1="299.20" y1="206.04" x2="302.00" y2="206.04" stroke="#231f20" stroke-width="1.0" stroke-linecap="butt"/>
<text x="296.00" y="208.59" font-size="7.2" text-anchor="end" fill="#231f20" stroke="#231f20" stroke-width="0.0">4</text>
<line x1="299.20" y1="197.08" x2="302.00" y2="197.08" stroke="#231f20" stroke-width="1.0" stroke-linecap="butt"/>
<text x="296.00" y="199.63" font-size="7.2" text-anchor="end" fill="#231f20" stroke="#231f20" stroke-width="0.0">5</text>
<line x1="299.20" y1="188.12" x2="302.00" y2="188.12" stroke="#231f20" stroke-width="1.0" stroke-linecap="butt"/>
<text x="296.00" y="190.67" font-size="7.2" text-anchor="end" fill="#231f20" stroke="#231f20" stroke-width="0.0">6</text>
<line x1="299.20" y1="179.16" x2="302.00" y2="179.16" stroke="#231f20" stroke-width="1.0" stroke-linecap="butt"/>
<text x="296.00" y="181.71" font-size="7.2" text-anchor="end" fill="#231f20" stroke="#231f20" stroke-width="0.0">7</text>
<line x1="299.20" y1="170.20" x2="302.00" y2="170.20" stroke="#231f20" stroke-width="1.0" stroke-linecap="butt"/>
<text x="296.00" y="172.75" font-size="7.2" text-anchor="end" fill="#231f20" stroke="#231f20" stroke-width="0.0">8</text>
<line x1="299.20" y1="161.24" x2="302.00" y2="161.24" stroke="#231f20" stroke-width="1.0" stroke-linecap="butt"/>
<text x="296.00" y="163.79" font-size="7.2" text-anchor="end" fill="#231f20" stroke="#231f20" stroke-width="0.0">9</text>
<line x1="301.50" y1="214.90" x2="382.20" y2="214.90" stroke="#231f20" stroke-width="1.25" stroke-linecap="butt"/>
<line x1="313.80" y1="214.90" x2="313.80" y2="218.20" stroke="#231f20" stroke-width="1.0" stroke-linecap="butt"/>
<line x1="341.30" y1="214.90" x2="341.30" y2="218.20" stroke="#231f20" stroke-width="1.0" stroke-linecap="butt"/>
<line x1="369.30" y1="214.90" x2="369.30" y2="218.20" stroke="#231f20" stroke-width="1.0" stroke-linecap="butt"/>
<circle cx="306.80" cy="188.60" r="1.45" fill="#a11a2e"/>
<circle cx="308.90" cy="189.50" r="1.45" fill="#a11a2e"/>
<circle cx="310.70" cy="187.10" r="1.45" fill="#a11a2e"/>
<circle cx="307.80" cy="191.00" r="1.45" fill="#a11a2e"/>
<circle cx="309.60" cy="190.20" r="1.45" fill="#a11a2e"/>
<line x1="305.00" y1="188.70" x2="312.20" y2="188.70" stroke="#2a3a32" stroke-width="0.9" stroke-linecap="butt"/>
<line x1="308.60" y1="188.10" x2="308.60" y2="189.30" stroke="#2a3a32" stroke-width="0.7" stroke-linecap="butt"/>
<line x1="306.60" y1="188.10" x2="310.60" y2="188.10" stroke="#2a3a32" stroke-width="0.7" stroke-linecap="butt"/>
<line x1="306.60" y1="189.30" x2="310.60" y2="189.30" stroke="#2a3a32" stroke-width="0.7" stroke-linecap="butt"/>
<circle cx="318.80" cy="180.00" r="1.55" fill="none" stroke="#3d5e93" stroke-width="0.7"/>
<circle cx="317.00" cy="182.80" r="1.55" fill="none" stroke="#3d5e93" stroke-width="0.7"/>
<circle cx="321.30" cy="182.40" r="1.55" fill="none" stroke="#3d5e93" stroke-width="0.7"/>
<circle cx="318.10" cy="185.30" r="1.55" fill="none" stroke="#3d5e93" stroke-width="0.7"/>
<circle cx="320.60" cy="184.60" r="1.55" fill="none" stroke="#3d5e93" stroke-width="0.7"/>
<line x1="315.90" y1="182.65" x2="323.10" y2="182.65" stroke="#1f2a40" stroke-width="0.9" stroke-linecap="butt"/>
<line x1="319.50" y1="182.00" x2="319.50" y2="183.30" stroke="#1f2a40" stroke-width="0.7" stroke-linecap="butt"/>
<line x1="317.50" y1="182.00" x2="321.50" y2="182.00" stroke="#1f2a40" stroke-width="0.7" stroke-linecap="butt"/>
<line x1="317.50" y1="183.30" x2="321.50" y2="183.30" stroke="#1f2a40" stroke-width="0.7" stroke-linecap="butt"/>
<line x1="307.80" y1="175.80" x2="321.00" y2="175.80" stroke="#3a3a3a" stroke-width="0.95" stroke-linecap="butt"/>
<ellipse cx="313.90" cy="172.30" rx="0.65" ry="0.85" fill="#333"/>
<circle cx="338.40" cy="204.90" r="1.45" fill="#a11a2e"/>
<circle cx="334.60" cy="207.00" r="1.45" fill="#a11a2e"/>
<circle cx="336.70" cy="208.10" r="1.45" fill="#a11a2e"/>
<circle cx="338.40" cy="210.40" r="1.45" fill="#a11a2e"/>
<circle cx="334.90" cy="212.40" r="1.45" fill="#a11a2e"/>
<line x1="335.00" y1="207.50" x2="340.20" y2="207.50" stroke="#2a4a3a" stroke-width="0.9" stroke-linecap="butt"/>
<line x1="337.60" y1="206.60" x2="337.60" y2="208.40" stroke="#2a4a3a" stroke-width="0.7" stroke-linecap="butt"/>
<line x1="335.60" y1="206.60" x2="339.60" y2="206.60" stroke="#2a4a3a" stroke-width="0.7" stroke-linecap="butt"/>
<line x1="335.60" y1="208.40" x2="339.60" y2="208.40" stroke="#2a4a3a" stroke-width="0.7" stroke-linecap="butt"/>
<circle cx="345.00" cy="201.50" r="1.55" fill="none" stroke="#3d5e93" stroke-width="0.7"/>
<circle cx="348.50" cy="202.30" r="1.55" fill="none" stroke="#3d5e93" stroke-width="0.7"/>
<circle cx="344.20" cy="204.70" r="1.55" fill="none" stroke="#3d5e93" stroke-width="0.7"/>
<circle cx="349.40" cy="204.10" r="1.55" fill="none" stroke="#3d5e93" stroke-width="0.7"/>
<circle cx="345.90" cy="207.80" r="1.55" fill="none" stroke="#3d5e93" stroke-width="0.7"/>
<line x1="343.20" y1="204.00" x2="350.80" y2="204.00" stroke="#1f2a40" stroke-width="0.9" stroke-linecap="butt"/>
<line x1="347.00" y1="203.20" x2="347.00" y2="204.80" stroke="#1f2a40" stroke-width="0.7" stroke-linecap="butt"/>
<line x1="345.00" y1="203.20" x2="349.00" y2="203.20" stroke="#1f2a40" stroke-width="0.7" stroke-linecap="butt"/>
<line x1="345.00" y1="204.80" x2="349.00" y2="204.80" stroke="#1f2a40" stroke-width="0.7" stroke-linecap="butt"/>
<circle cx="362.50" cy="188.50" r="1.45" fill="#a11a2e"/>
<circle cx="366.40" cy="188.90" r="1.45" fill="#a11a2e"/>
<circle cx="364.20" cy="191.30" r="1.45" fill="#a11a2e"/>
<circle cx="365.70" cy="192.80" r="1.45" fill="#a11a2e"/>
<circle cx="364.20" cy="199.90" r="1.45" fill="#a11a2e"/>
<line x1="361.00" y1="191.20" x2="368.60" y2="191.20" stroke="#2a3a32" stroke-width="0.9" stroke-linecap="butt"/>
<line x1="364.80" y1="190.20" x2="364.80" y2="192.20" stroke="#2a3a32" stroke-width="0.7" stroke-linecap="butt"/>
<line x1="362.80" y1="190.20" x2="366.80" y2="190.20" stroke="#2a3a32" stroke-width="0.7" stroke-linecap="butt"/>
<line x1="362.80" y1="192.20" x2="366.80" y2="192.20" stroke="#2a3a32" stroke-width="0.7" stroke-linecap="butt"/>
<circle cx="373.10" cy="181.80" r="1.55" fill="none" stroke="#3d5e93" stroke-width="0.7"/>
<circle cx="376.30" cy="181.00" r="1.55" fill="none" stroke="#3d5e93" stroke-width="0.7"/>
<circle cx="376.70" cy="185.30" r="1.55" fill="none" stroke="#3d5e93" stroke-width="0.7"/>
<circle cx="373.10" cy="187.80" r="1.55" fill="none" stroke="#3d5e93" stroke-width="0.7"/>
<circle cx="378.00" cy="183.00" r="1.55" fill="none" stroke="#3d5e93" stroke-width="0.7"/>
<line x1="371.30" y1="183.40" x2="378.50" y2="183.40" stroke="#1f2a40" stroke-width="0.9" stroke-linecap="butt"/>
<line x1="374.90" y1="182.60" x2="374.90" y2="184.20" stroke="#1f2a40" stroke-width="0.7" stroke-linecap="butt"/>
<line x1="372.90" y1="182.60" x2="376.90" y2="182.60" stroke="#1f2a40" stroke-width="0.7" stroke-linecap="butt"/>
<line x1="372.90" y1="184.20" x2="376.90" y2="184.20" stroke="#1f2a40" stroke-width="0.7" stroke-linecap="butt"/>
<line x1="361.20" y1="176.20" x2="376.40" y2="176.20" stroke="#3a3a3a" stroke-width="0.95" stroke-linecap="butt"/>
<ellipse cx="368.00" cy="172.40" rx="0.65" ry="0.85" fill="#333"/>
<circle cx="343.90" cy="159.30" r="1.4" fill="#a11a2e"/>
<text x="348.00" y="161.60" font-size="5.3" text-anchor="start" fill="#231f20" stroke="#231f20" textLength="15.00" lengthAdjust="spacingAndGlyphs" stroke-width="0.1">IgG2b</text>
<circle cx="343.90" cy="167.10" r="1.35" fill="none" stroke="#3d5e93" stroke-width="0.7"/>
<text x="348.00" y="168.90" font-size="5.3" text-anchor="start" fill="#231f20" stroke="#231f20" textLength="27.00" lengthAdjust="spacingAndGlyphs" stroke-width="0.1">Anti-CXCL1</text>
<text transform="translate(317.80,224.70) rotate(-45)" font-size="6.6" text-anchor="end" fill="#231f20" stroke="#231f20" textLength="24.64" lengthAdjust="spacingAndGlyphs" stroke-width="0.18">C57BL6/J</text>
<text transform="translate(345.90,224.70) rotate(-45)" font-size="6.6" text-anchor="end" fill="#231f20" stroke="#231f20" textLength="8.77" lengthAdjust="spacingAndGlyphs" stroke-width="0.18">A/J</text>
<text transform="translate(374.70,224.70) rotate(-45)" font-size="6.6" text-anchor="end" fill="#231f20" stroke="#231f20" textLength="23.29" lengthAdjust="spacingAndGlyphs" stroke-width="0.18">BALB/cJ</text>
<text x="448.60" y="148.30" font-size="9.1" text-anchor="start" fill="#231f20" stroke="#231f20" textLength="40.20" lengthAdjust="spacingAndGlyphs" stroke-width="0.2">Neutrophil</text>
<g transform="translate(410.40,222.40) rotate(-90)"><text x="0.00" y="0" font-size="8.5" fill="#231f20" stroke="#231f20" stroke-width="0.2" textLength="30.30" lengthAdjust="spacingAndGlyphs">Cells x 10</text><text x="30.60" y="-3.6" font-size="5.6" fill="#231f20" stroke="#231f20" stroke-width="0.2" textLength="3.30" lengthAdjust="spacingAndGlyphs">4</text><text x="35.00" y="0" font-size="8.5" fill="#231f20" stroke="#231f20" stroke-width="0.2" textLength="36.60" lengthAdjust="spacingAndGlyphs">/ml BALF</text></g>
<line x1="429.00" y1="158.60" x2="429.00" y2="215.40" stroke="#231f20" stroke-width="1.25" stroke-linecap="butt"/>
<line x1="426.20" y1="214.70" x2="429.00" y2="214.70" stroke="#231f20" stroke-width="1.0" stroke-linecap="butt"/>
<text x="423.00" y="217.25" font-size="7.2" text-anchor="end" fill="#231f20" stroke="#231f20" stroke-width="0.0">0</text>
<line x1="426.20" y1="201.42" x2="429.00" y2="201.42" stroke="#231f20" stroke-width="1.0" stroke-linecap="butt"/>
<text x="423.00" y="203.97" font-size="7.2" text-anchor="end" fill="#231f20" stroke="#231f20" stroke-width="0.0">10</text>
<line x1="426.20" y1="188.14" x2="429.00" y2="188.14" stroke="#231f20" stroke-width="1.0" stroke-linecap="butt"/>
<text x="423.00" y="190.69" font-size="7.2" text-anchor="end" fill="#231f20" stroke="#231f20" stroke-width="0.0">20</text>
<line x1="426.20" y1="174.86" x2="429.00" y2="174.86" stroke="#231f20" stroke-width="1.0" stroke-linecap="butt"/>
<text x="423.00" y="177.41" font-size="7.2" text-anchor="end" fill="#231f20" stroke="#231f20" stroke-width="0.0">30</text>
<line x1="426.20" y1="161.58" x2="429.00" y2="161.58" stroke="#231f20" stroke-width="1.0" stroke-linecap="butt"/>
<text x="423.00" y="164.13" font-size="7.2" text-anchor="end" fill="#231f20" stroke="#231f20" stroke-width="0.0">40</text>
<line x1="428.50" y1="214.90" x2="509.00" y2="214.90" stroke="#231f20" stroke-width="1.25" stroke-linecap="butt"/>
<line x1="441.00" y1="214.90" x2="441.00" y2="218.20" stroke="#231f20" stroke-width="1.0" stroke-linecap="butt"/>
<line x1="459.50" y1="214.90" x2="459.50" y2="218.20" stroke="#231f20" stroke-width="1.0" stroke-linecap="butt"/>
<line x1="477.80" y1="214.90" x2="477.80" y2="218.20" stroke="#231f20" stroke-width="1.0" stroke-linecap="butt"/>
<line x1="496.50" y1="214.90" x2="496.50" y2="218.20" stroke="#231f20" stroke-width="1.0" stroke-linecap="butt"/>
<rect x="434.60" y="181.35" width="13.00" height="33.35" fill="#a3303f" stroke="#98283a" stroke-width="0.6"/>
<line x1="441.10" y1="178.50" x2="441.10" y2="181.35" stroke="#231f20" stroke-width="0.7" stroke-linecap="butt"/>
<line x1="438.90" y1="178.50" x2="443.30" y2="178.50" stroke="#231f20" stroke-width="0.8" stroke-linecap="butt"/>
<rect x="453.20" y="191.45" width="12.90" height="23.25" fill="#4b6088" stroke="#435a82" stroke-width="0.6"/>
<line x1="459.65" y1="189.40" x2="459.65" y2="191.45" stroke="#231f20" stroke-width="0.7" stroke-linecap="butt"/>
<line x1="457.45" y1="189.40" x2="461.85" y2="189.40" stroke="#231f20" stroke-width="0.8" stroke-linecap="butt"/>
<rect x="471.70" y="197.65" width="12.90" height="17.05" fill="#79a95e" stroke="#6aa04e" stroke-width="0.6"/>
<line x1="478.15" y1="194.90" x2="478.15" y2="197.65" stroke="#231f20" stroke-width="0.7" stroke-linecap="butt"/>
<line x1="475.95" y1="194.90" x2="480.35" y2="194.90" stroke="#231f20" stroke-width="0.8" stroke-linecap="butt"/>
<rect x="490.10" y="202.05" width="13.00" height="12.65" fill="#6e4a6e" stroke="#643f66" stroke-width="0.6"/>
<line x1="496.60" y1="200.70" x2="496.60" y2="202.05" stroke="#231f20" stroke-width="0.7" stroke-linecap="butt"/>
<line x1="494.40" y1="200.70" x2="498.80" y2="200.70" stroke="#231f20" stroke-width="0.8" stroke-linecap="butt"/>
<line x1="439.00" y1="158.50" x2="499.30" y2="158.50" stroke="#3a3a3a" stroke-width="0.95" stroke-linecap="butt"/>
<ellipse cx="447.70" cy="155.10" rx="0.65" ry="0.85" fill="#333"/>
<ellipse cx="449.30" cy="155.10" rx="0.65" ry="0.85" fill="#333"/>
<line x1="439.00" y1="165.50" x2="480.20" y2="165.50" stroke="#3a3a3a" stroke-width="0.95" stroke-linecap="butt"/>
<ellipse cx="448.50" cy="162.90" rx="0.65" ry="0.85" fill="#333"/>
<line x1="439.00" y1="173.20" x2="461.60" y2="173.20" stroke="#3a3a3a" stroke-width="0.95" stroke-linecap="butt"/>
<ellipse cx="448.50" cy="169.50" rx="0.65" ry="0.85" fill="#333"/>
<line x1="458.00" y1="181.00" x2="496.80" y2="181.00" stroke="#3a3a3a" stroke-width="0.95" stroke-linecap="butt"/>
<ellipse cx="477.40" cy="178.10" rx="0.65" ry="0.85" fill="#333"/>
<g transform="translate(442.90,224.50) rotate(-45)"><text x="-26.99" y="0" font-size="7.0" fill="#231f20" stroke="#231f20" stroke-width="0.15" textLength="9.79" lengthAdjust="spacingAndGlyphs">WT</text><path d="M-16.29,-2.3 H-12.29" stroke="#231f20" stroke-width="0.75"/><path d="M-12.99,-3.5 L-10.69,-2.3 L-12.99,-1.0999999999999999Z" fill="#231f20"/><text x="-9.79" y="0" font-size="7.0" fill="#231f20" stroke="#231f20" stroke-width="0.15" textLength="9.79" lengthAdjust="spacingAndGlyphs">WT</text></g>
<g transform="translate(463.40,226.00) rotate(-45)"><text x="-37.50" y="0" font-size="7.0" fill="#231f20" stroke="#231f20" stroke-width="0.15" textLength="9.79" lengthAdjust="spacingAndGlyphs">WT</text><path d="M-26.80,-2.3 H-22.80" stroke="#231f20" stroke-width="0.75"/><path d="M-23.50,-3.5 L-21.20,-2.3 L-23.50,-1.0999999999999999Z" fill="#231f20"/><text x="-20.30" y="0" font-size="7.0" fill="#231f20" stroke="#231f20" stroke-width="0.15" textLength="15.75" lengthAdjust="spacingAndGlyphs">Cxcl1</text><text x="-4.25" y="-3.4" font-size="5.0" fill="#a0a0a0" textLength="4.25" lengthAdjust="spacingAndGlyphs">-/-</text></g>
<g transform="translate(480.70,225.20) rotate(-45)"><text x="-37.50" y="0" font-size="7.0" fill="#231f20" stroke="#231f20" stroke-width="0.15" textLength="15.75" lengthAdjust="spacingAndGlyphs">Cxcl1</text><text x="-21.44" y="-3.4" font-size="5.0" fill="#a0a0a0" textLength="4.25" lengthAdjust="spacingAndGlyphs">-/-</text><path d="M-16.29,-2.3 H-12.29" stroke="#231f20" stroke-width="0.75"/><path d="M-12.99,-3.5 L-10.69,-2.3 L-12.99,-1.0999999999999999Z" fill="#231f20"/><text x="-9.79" y="0" font-size="7.0" fill="#231f20" stroke="#231f20" stroke-width="0.15" textLength="9.79" lengthAdjust="spacingAndGlyphs">WT</text></g>
<g transform="translate(501.70,225.70) rotate(-45)"><text x="-48.00" y="0" font-size="7.0" fill="#231f20" stroke="#231f20" stroke-width="0.15" textLength="15.75" lengthAdjust="spacingAndGlyphs">Cxcl1</text><text x="-31.95" y="-3.4" font-size="5.0" fill="#a0a0a0" textLength="4.25" lengthAdjust="spacingAndGlyphs">-/-</text><path d="M-26.80,-2.3 H-22.80" stroke="#231f20" stroke-width="0.75"/><path d="M-23.50,-3.5 L-21.20,-2.3 L-23.50,-1.0999999999999999Z" fill="#231f20"/><text x="-20.30" y="0" font-size="7.0" fill="#231f20" stroke="#231f20" stroke-width="0.15" textLength="15.75" lengthAdjust="spacingAndGlyphs">Cxcl1</text><text x="-4.25" y="-3.4" font-size="5.0" fill="#a0a0a0" textLength="4.25" lengthAdjust="spacingAndGlyphs">-/-</text></g>
<text x="68.80" y="294.30" font-size="9.1" text-anchor="start" fill="#231f20" stroke="#231f20" textLength="18.60" lengthAdjust="spacingAndGlyphs" stroke-width="0.2">BALF</text>
<text transform="translate(22.80,336.50) rotate(-90)" font-size="8.5" text-anchor="middle" fill="#231f20" stroke="#231f20" textLength="50.00" lengthAdjust="spacingAndGlyphs" stroke-width="0.2">Log (CFU/ml)</text>
<line x1="38.50" y1="307.00" x2="38.50" y2="364.30" stroke="#231f20" stroke-width="1.25" stroke-linecap="butt"/>
<line x1="35.70" y1="363.80" x2="38.50" y2="363.80" stroke="#231f20" stroke-width="1.0" stroke-linecap="butt"/>
<text x="32.50" y="366.35" font-size="7.2" text-anchor="end" fill="#231f20" stroke="#231f20" stroke-width="0.0">3</text>
<line x1="35.70" y1="354.85" x2="38.50" y2="354.85" stroke="#231f20" stroke-width="1.0" stroke-linecap="butt"/>
<text x="32.50" y="357.40" font-size="7.2" text-anchor="end" fill="#231f20" stroke="#231f20" stroke-width="0.0">4</text>
<line x1="35.70" y1="345.90" x2="38.50" y2="345.90" stroke="#231f20" stroke-width="1.0" stroke-linecap="butt"/>
<text x="32.50" y="348.45" font-size="7.2" text-anchor="end" fill="#231f20" stroke="#231f20" stroke-width="0.0">5</text>
<line x1="35.70" y1="336.95" x2="38.50" y2="336.95" stroke="#231f20" stroke-width="1.0" stroke-linecap="butt"/>
<text x="32.50" y="339.50" font-size="7.2" text-anchor="end" fill="#231f20" stroke="#231f20" stroke-width="0.0">6</text>
<line x1="35.70" y1="328.00" x2="38.50" y2="328.00" stroke="#231f20" stroke-width="1.0" stroke-linecap="butt"/>
<text x="32.50" y="330.55" font-size="7.2" text-anchor="end" fill="#231f20" stroke="#231f20" stroke-width="0.0">7</text>
<line x1="35.70" y1="319.05" x2="38.50" y2="319.05" stroke="#231f20" stroke-width="1.0" stroke-linecap="butt"/>
<text x="32.50" y="321.60" font-size="7.2" text-anchor="end" fill="#231f20" stroke="#231f20" stroke-width="0.0">8</text>
<line x1="35.70" y1="310.10" x2="38.50" y2="310.10" stroke="#231f20" stroke-width="1.0" stroke-linecap="butt"/>
<text x="32.50" y="312.65" font-size="7.2" text-anchor="end" fill="#231f20" stroke="#231f20" stroke-width="0.0">9</text>
<line x1="38.00" y1="363.80" x2="118.70" y2="363.80" stroke="#231f20" stroke-width="1.25" stroke-linecap="butt"/>
<line x1="51.20" y1="363.80" x2="51.20" y2="367.10" stroke="#231f20" stroke-width="1.0" stroke-linecap="butt"/>
<line x1="69.60" y1="363.80" x2="69.60" y2="367.10" stroke="#231f20" stroke-width="1.0" stroke-linecap="butt"/>
<line x1="87.80" y1="363.80" x2="87.80" y2="367.10" stroke="#231f20" stroke-width="1.0" stroke-linecap="butt"/>
<line x1="106.40" y1="363.80" x2="106.40" y2="367.10" stroke="#231f20" stroke-width="1.0" stroke-linecap="butt"/>
<circle cx="50.80" cy="331.80" r="1.5" fill="#a11a2e"/>
<circle cx="46.00" cy="340.00" r="1.5" fill="#a11a2e"/>
<circle cx="49.10" cy="341.50" r="1.5" fill="#a11a2e"/>
<circle cx="52.30" cy="340.80" r="1.5" fill="#a11a2e"/>
<circle cx="55.40" cy="338.50" r="1.5" fill="#a11a2e"/>
<line x1="44.20" y1="336.30" x2="56.60" y2="336.30" stroke="#231f20" stroke-width="0.9" stroke-linecap="butt"/>
<line x1="50.40" y1="334.40" x2="50.40" y2="338.10" stroke="#231f20" stroke-width="0.7" stroke-linecap="butt"/>
<line x1="47.20" y1="334.40" x2="53.60" y2="334.40" stroke="#231f20" stroke-width="0.7" stroke-linecap="butt"/>
<line x1="47.20" y1="338.10" x2="53.60" y2="338.10" stroke="#231f20" stroke-width="0.7" stroke-linecap="butt"/>
<path d="M65.10,333.34 L68.70,333.34 L66.90,330.10Z" fill="#3d5e93"/>
<path d="M69.60,335.64 L73.20,335.64 L71.40,332.40Z" fill="#3d5e93"/>
<path d="M63.20,342.64 L66.80,342.64 L65.00,339.40Z" fill="#3d5e93"/>
<path d="M67.00,344.44 L70.60,344.44 L68.80,341.20Z" fill="#3d5e93"/>
<path d="M71.40,343.54 L75.00,343.54 L73.20,340.30Z" fill="#3d5e93"/>
<line x1="63.00" y1="335.80" x2="75.40" y2="335.80" stroke="#231f20" stroke-width="0.9" stroke-linecap="butt"/>
<line x1="69.20" y1="333.50" x2="69.20" y2="338.50" stroke="#231f20" stroke-width="0.7" stroke-linecap="butt"/>
<line x1="66.00" y1="333.50" x2="72.40" y2="333.50" stroke="#231f20" stroke-width="0.7" stroke-linecap="butt"/>
<line x1="66.00" y1="338.50" x2="72.40" y2="338.50" stroke="#231f20" stroke-width="0.7" stroke-linecap="butt"/>
<path d="M83.60,325.56 L87.20,325.56 L85.40,328.80Z" fill="#5fa644"/>
<path d="M88.00,326.36 L91.60,326.36 L89.80,329.60Z" fill="#5fa644"/>
<path d="M81.50,330.16 L85.10,330.16 L83.30,333.40Z" fill="#5fa644"/>
<path d="M85.70,333.46 L89.30,333.46 L87.50,336.70Z" fill="#5fa644"/>
<path d="M89.80,333.26 L93.40,333.26 L91.60,336.50Z" fill="#5fa644"/>
<line x1="81.60" y1="330.30" x2="93.60" y2="330.30" stroke="#231f20" stroke-width="0.9" stroke-linecap="butt"/>
<line x1="87.60" y1="329.30" x2="87.60" y2="331.30" stroke="#231f20" stroke-width="0.7" stroke-linecap="butt"/>
<line x1="84.60" y1="329.30" x2="90.60" y2="329.30" stroke="#231f20" stroke-width="0.7" stroke-linecap="butt"/>
<line x1="84.60" y1="331.30" x2="90.60" y2="331.30" stroke="#231f20" stroke-width="0.7" stroke-linecap="butt"/>
<circle cx="101.20" cy="320.60" r="1.5" fill="none" stroke="#7a4a80" stroke-width="0.75"/>
<circle cx="110.70" cy="322.00" r="1.5" fill="none" stroke="#7a4a80" stroke-width="0.75"/>
<circle cx="104.00" cy="324.10" r="1.5" fill="none" stroke="#7a4a80" stroke-width="0.75"/>
<circle cx="107.80" cy="324.50" r="1.5" fill="none" stroke="#7a4a80" stroke-width="0.75"/>
<circle cx="106.10" cy="333.60" r="1.5" fill="none" stroke="#7a4a80" stroke-width="0.75"/>
<line x1="99.90" y1="322.80" x2="112.70" y2="322.80" stroke="#231f20" stroke-width="0.9" stroke-linecap="butt"/>
<line x1="106.30" y1="322.20" x2="106.30" y2="323.40" stroke="#231f20" stroke-width="0.7" stroke-linecap="butt"/>
<line x1="103.30" y1="322.20" x2="109.30" y2="322.20" stroke="#231f20" stroke-width="0.7" stroke-linecap="butt"/>
<line x1="103.30" y1="323.40" x2="109.30" y2="323.40" stroke="#231f20" stroke-width="0.7" stroke-linecap="butt"/>
<line x1="51.50" y1="304.50" x2="104.70" y2="304.50" stroke="#3a3a3a" stroke-width="0.95" stroke-linecap="butt"/>
<ellipse cx="64.60" cy="301.50" rx="0.65" ry="0.85" fill="#333"/>
<ellipse cx="66.20" cy="301.50" rx="0.65" ry="0.85" fill="#333"/>
<line x1="51.50" y1="310.50" x2="92.00" y2="310.50" stroke="#3a3a3a" stroke-width="0.95" stroke-linecap="butt"/>
<ellipse cx="65.40" cy="307.40" rx="0.65" ry="0.85" fill="#333"/>
<line x1="65.40" y1="316.50" x2="106.00" y2="316.50" stroke="#3a3a3a" stroke-width="0.95" stroke-linecap="butt"/>
<ellipse cx="85.70" cy="313.60" rx="0.65" ry="0.85" fill="#333"/>
<g transform="translate(53.40,375.50) rotate(-45)"><text x="-26.99" y="0" font-size="7.0" fill="#231f20" stroke="#231f20" stroke-width="0.15" textLength="9.79" lengthAdjust="spacingAndGlyphs">WT</text><path d="M-16.29,-2.3 H-12.29" stroke="#231f20" stroke-width="0.75"/><path d="M-12.99,-3.5 L-10.69,-2.3 L-12.99,-1.0999999999999999Z" fill="#231f20"/><text x="-9.79" y="0" font-size="7.0" fill="#231f20" stroke="#231f20" stroke-width="0.15" textLength="9.79" lengthAdjust="spacingAndGlyphs">WT</text></g>
<g transform="translate(74.20,376.00) rotate(-45)"><text x="-37.50" y="0" font-size="7.0" fill="#231f20" stroke="#231f20" stroke-width="0.15" textLength="9.79" lengthAdjust="spacingAndGlyphs">WT</text><path d="M-26.80,-2.3 H-22.80" stroke="#231f20" stroke-width="0.75"/><path d="M-23.50,-3.5 L-21.20,-2.3 L-23.50,-1.0999999999999999Z" fill="#231f20"/><text x="-20.30" y="0" font-size="7.0" fill="#231f20" stroke="#231f20" stroke-width="0.15" textLength="15.75" lengthAdjust="spacingAndGlyphs">Cxcl1</text><text x="-4.25" y="-3.4" font-size="5.0" fill="#a0a0a0" textLength="4.25" lengthAdjust="spacingAndGlyphs">-/-</text></g>
<g transform="translate(91.20,376.50) rotate(-45)"><text x="-37.50" y="0" font-size="7.0" fill="#231f20" stroke="#231f20" stroke-width="0.15" textLength="15.75" lengthAdjust="spacingAndGlyphs">Cxcl1</text><text x="-21.44" y="-3.4" font-size="5.0" fill="#a0a0a0" textLength="4.25" lengthAdjust="spacingAndGlyphs">-/-</text><path d="M-16.29,-2.3 H-12.29" stroke="#231f20" stroke-width="0.75"/><path d="M-12.99,-3.5 L-10.69,-2.3 L-12.99,-1.0999999999999999Z" fill="#231f20"/><text x="-9.79" y="0" font-size="7.0" fill="#231f20" stroke="#231f20" stroke-width="0.15" textLength="9.79" lengthAdjust="spacingAndGlyphs">WT</text></g>
<g transform="translate(112.10,377.00) rotate(-45)"><text x="-48.00" y="0" font-size="7.0" fill="#231f20" stroke="#231f20" stroke-width="0.15" textLength="15.75" lengthAdjust="spacingAndGlyphs">Cxcl1</text><text x="-31.95" y="-3.4" font-size="5.0" fill="#a0a0a0" textLength="4.25" lengthAdjust="spacingAndGlyphs">-/-</text><path d="M-26.80,-2.3 H-22.80" stroke="#231f20" stroke-width="0.75"/><path d="M-23.50,-3.5 L-21.20,-2.3 L-23.50,-1.0999999999999999Z" fill="#231f20"/><text x="-20.30" y="0" font-size="7.0" fill="#231f20" stroke="#231f20" stroke-width="0.15" textLength="15.75" lengthAdjust="spacingAndGlyphs">Cxcl1</text><text x="-4.25" y="-3.4" font-size="5.0" fill="#a0a0a0" textLength="4.25" lengthAdjust="spacingAndGlyphs">-/-</text></g>
<text x="197.60" y="294.30" font-size="9.1" text-anchor="start" fill="#231f20" stroke="#231f20" textLength="19.80" lengthAdjust="spacingAndGlyphs" stroke-width="0.2">Lung</text>
<text transform="translate(152.20,336.50) rotate(-90)" font-size="8.5" text-anchor="middle" fill="#231f20" stroke="#231f20" textLength="50.00" lengthAdjust="spacingAndGlyphs" stroke-width="0.2">Log (CFU/ml)</text>
<line x1="168.00" y1="307.00" x2="168.00" y2="364.40" stroke="#231f20" stroke-width="1.25" stroke-linecap="butt"/>
<line x1="165.20" y1="363.80" x2="168.00" y2="363.80" stroke="#231f20" stroke-width="1.0" stroke-linecap="butt"/>
<text x="162.00" y="366.35" font-size="7.2" text-anchor="end" fill="#231f20" stroke="#231f20" stroke-width="0.0">3</text>
<line x1="165.20" y1="354.85" x2="168.00" y2="354.85" stroke="#231f20" stroke-width="1.0" stroke-linecap="butt"/>
<text x="162.00" y="357.40" font-size="7.2" text-anchor="end" fill="#231f20" stroke="#231f20" stroke-width="0.0">4</text>
<line x1="165.20" y1="345.90" x2="168.00" y2="345.90" stroke="#231f20" stroke-width="1.0" stroke-linecap="butt"/>
<text x="162.00" y="348.45" font-size="7.2" text-anchor="end" fill="#231f20" stroke="#231f20" stroke-width="0.0">5</text>
<line x1="165.20" y1="336.95" x2="168.00" y2="336.95" stroke="#231f20" stroke-width="1.0" stroke-linecap="butt"/>
<text x="162.00" y="339.50" font-size="7.2" text-anchor="end" fill="#231f20" stroke="#231f20" stroke-width="0.0">6</text>
<line x1="165.20" y1="328.00" x2="168.00" y2="328.00" stroke="#231f20" stroke-width="1.0" stroke-linecap="butt"/>
<text x="162.00" y="330.55" font-size="7.2" text-anchor="end" fill="#231f20" stroke="#231f20" stroke-width="0.0">7</text>
<line x1="165.20" y1="319.05" x2="168.00" y2="319.05" stroke="#231f20" stroke-width="1.0" stroke-linecap="butt"/>
<text x="162.00" y="321.60" font-size="7.2" text-anchor="end" fill="#231f20" stroke="#231f20" stroke-width="0.0">8</text>
<line x1="165.20" y1="310.10" x2="168.00" y2="310.10" stroke="#231f20" stroke-width="1.0" stroke-linecap="butt"/>
<text x="162.00" y="312.65" font-size="7.2" text-anchor="end" fill="#231f20" stroke="#231f20" stroke-width="0.0">9</text>
<line x1="167.50" y1="363.90" x2="248.30" y2="363.90" stroke="#231f20" stroke-width="1.25" stroke-linecap="butt"/>
<line x1="180.60" y1="363.90" x2="180.60" y2="367.20" stroke="#231f20" stroke-width="1.0" stroke-linecap="butt"/>
<line x1="199.00" y1="363.90" x2="199.00" y2="367.20" stroke="#231f20" stroke-width="1.0" stroke-linecap="butt"/>
<line x1="217.40" y1="363.90" x2="217.40" y2="367.20" stroke="#231f20" stroke-width="1.0" stroke-linecap="butt"/>
<line x1="236.00" y1="363.90" x2="236.00" y2="367.20" stroke="#231f20" stroke-width="1.0" stroke-linecap="butt"/>
<circle cx="179.80" cy="333.30" r="1.5" fill="#a11a2e"/>
<circle cx="175.80" cy="336.90" r="1.5" fill="#a11a2e"/>
<circle cx="184.00" cy="339.20" r="1.5" fill="#a11a2e"/>
<circle cx="179.80" cy="340.80" r="1.5" fill="#a11a2e"/>
<circle cx="183.80" cy="335.60" r="1.5" fill="#a11a2e"/>
<line x1="174.00" y1="336.90" x2="186.00" y2="336.90" stroke="#3a3a3a" stroke-width="0.9" stroke-linecap="butt"/>
<line x1="180.00" y1="335.40" x2="180.00" y2="338.50" stroke="#3a3a3a" stroke-width="0.7" stroke-linecap="butt"/>
<line x1="177.00" y1="335.40" x2="183.00" y2="335.40" stroke="#3a3a3a" stroke-width="0.7" stroke-linecap="butt"/>
<line x1="177.00" y1="338.50" x2="183.00" y2="338.50" stroke="#3a3a3a" stroke-width="0.7" stroke-linecap="butt"/>
<path d="M192.40,338.34 L196.00,338.34 L194.20,335.10Z" fill="#3d5e93"/>
<path d="M200.90,337.24 L204.50,337.24 L202.70,334.00Z" fill="#3d5e93"/>
<path d="M196.80,339.04 L200.40,339.04 L198.60,335.80Z" fill="#3d5e93"/>
<path d="M196.80,345.64 L200.40,345.64 L198.60,342.40Z" fill="#3d5e93"/>
<line x1="192.30" y1="337.70" x2="204.90" y2="337.70" stroke="#231f20" stroke-width="0.9" stroke-linecap="butt"/>
<line x1="198.60" y1="337.00" x2="198.60" y2="338.40" stroke="#231f20" stroke-width="0.7" stroke-linecap="butt"/>
<line x1="195.60" y1="337.00" x2="201.60" y2="337.00" stroke="#231f20" stroke-width="0.7" stroke-linecap="butt"/>
<line x1="195.60" y1="338.40" x2="201.60" y2="338.40" stroke="#231f20" stroke-width="0.7" stroke-linecap="butt"/>
<path d="M210.80,328.16 L214.40,328.16 L212.60,331.40Z" fill="#5fa644"/>
<path d="M214.70,329.16 L218.30,329.16 L216.50,332.40Z" fill="#5fa644"/>
<path d="M218.80,328.36 L222.40,328.36 L220.60,331.60Z" fill="#5fa644"/>
<path d="M212.70,331.16 L216.30,331.16 L214.50,334.40Z" fill="#5fa644"/>
<path d="M216.20,331.56 L219.80,331.56 L218.00,334.80Z" fill="#5fa644"/>
<line x1="211.20" y1="331.60" x2="223.20" y2="331.60" stroke="#231f20" stroke-width="0.9" stroke-linecap="butt"/>
<line x1="217.20" y1="331.00" x2="217.20" y2="332.20" stroke="#231f20" stroke-width="0.7" stroke-linecap="butt"/>
<line x1="214.20" y1="331.00" x2="220.20" y2="331.00" stroke="#231f20" stroke-width="0.7" stroke-linecap="butt"/>
<line x1="214.20" y1="332.20" x2="220.20" y2="332.20" stroke="#231f20" stroke-width="0.7" stroke-linecap="butt"/>
<circle cx="235.40" cy="328.30" r="1.5" fill="none" stroke="#7a4a80" stroke-width="0.75"/>
<circle cx="240.00" cy="330.00" r="1.5" fill="none" stroke="#7a4a80" stroke-width="0.75"/>
<circle cx="230.80" cy="331.50" r="1.5" fill="none" stroke="#7a4a80" stroke-width="0.75"/>
<circle cx="233.80" cy="333.80" r="1.5" fill="none" stroke="#7a4a80" stroke-width="0.75"/>
<circle cx="237.30" cy="333.10" r="1.5" fill="none" stroke="#7a4a80" stroke-width="0.75"/>
<line x1="230.00" y1="331.20" x2="241.00" y2="331.20" stroke="#231f20" stroke-width="0.9" stroke-linecap="butt"/>
<line x1="235.50" y1="330.60" x2="235.50" y2="331.80" stroke="#231f20" stroke-width="0.7" stroke-linecap="butt"/>
<line x1="232.50" y1="330.60" x2="238.50" y2="330.60" stroke="#231f20" stroke-width="0.7" stroke-linecap="butt"/>
<line x1="232.50" y1="331.80" x2="238.50" y2="331.80" stroke="#231f20" stroke-width="0.7" stroke-linecap="butt"/>
<line x1="180.30" y1="308.50" x2="236.20" y2="308.50" stroke="#3a3a3a" stroke-width="0.95" stroke-linecap="butt"/>
<ellipse cx="190.50" cy="304.40" rx="0.65" ry="0.85" fill="#333"/>
<ellipse cx="192.10" cy="304.40" rx="0.65" ry="0.85" fill="#333"/>
<line x1="180.30" y1="314.50" x2="221.50" y2="314.50" stroke="#3a3a3a" stroke-width="0.95" stroke-linecap="butt"/>
<ellipse cx="191.90" cy="312.20" rx="0.65" ry="0.85" fill="#333"/>
<line x1="197.30" y1="320.05" x2="236.90" y2="320.05" stroke="#3a3a3a" stroke-width="0.95" stroke-linecap="butt"/>
<ellipse cx="215.30" cy="317.40" rx="0.65" ry="0.85" fill="#333"/>
<line x1="197.30" y1="325.50" x2="218.70" y2="325.50" stroke="#3a3a3a" stroke-width="0.95" stroke-linecap="butt"/>
<ellipse cx="206.00" cy="322.70" rx="0.65" ry="0.85" fill="#333"/>
<g transform="translate(183.00,375.50) rotate(-45)"><text x="-26.99" y="0" font-size="7.0" fill="#231f20" stroke="#231f20" stroke-width="0.15" textLength="9.79" lengthAdjust="spacingAndGlyphs">WT</text><path d="M-16.29,-2.3 H-12.29" stroke="#231f20" stroke-width="0.75"/><path d="M-12.99,-3.5 L-10.69,-2.3 L-12.99,-1.0999999999999999Z" fill="#231f20"/><text x="-9.79" y="0" font-size="7.0" fill="#231f20" stroke="#231f20" stroke-width="0.15" textLength="9.79" lengthAdjust="spacingAndGlyphs">WT</text></g>
<g transform="translate(203.60,376.20) rotate(-45)"><text x="-37.50" y="0" font-size="7.0" fill="#231f20" stroke="#231f20" stroke-width="0.15" textLength="9.79" lengthAdjust="spacingAndGlyphs">WT</text><path d="M-26.80,-2.3 H-22.80" stroke="#231f20" stroke-width="0.75"/><path d="M-23.50,-3.5 L-21.20,-2.3 L-23.50,-1.0999999999999999Z" fill="#231f20"/><text x="-20.30" y="0" font-size="7.0" fill="#231f20" stroke="#231f20" stroke-width="0.15" textLength="15.75" lengthAdjust="spacingAndGlyphs">Cxcl1</text><text x="-4.25" y="-3.4" font-size="5.0" fill="#a0a0a0" textLength="4.25" lengthAdjust="spacingAndGlyphs">-/-</text></g>
<g transform="translate(220.90,376.20) rotate(-45)"><text x="-37.50" y="0" font-size="7.0" fill="#231f20" stroke="#231f20" stroke-width="0.15" textLength="15.75" lengthAdjust="spacingAndGlyphs">Cxcl1</text><text x="-21.44" y="-3.4" font-size="5.0" fill="#a0a0a0" textLength="4.25" lengthAdjust="spacingAndGlyphs">-/-</text><path d="M-16.29,-2.3 H-12.29" stroke="#231f20" stroke-width="0.75"/><path d="M-12.99,-3.5 L-10.69,-2.3 L-12.99,-1.0999999999999999Z" fill="#231f20"/><text x="-9.79" y="0" font-size="7.0" fill="#231f20" stroke="#231f20" stroke-width="0.15" textLength="9.79" lengthAdjust="spacingAndGlyphs">WT</text></g>
<g transform="translate(241.90,377.00) rotate(-45)"><text x="-48.00" y="0" font-size="7.0" fill="#231f20" stroke="#231f20" stroke-width="0.15" textLength="15.75" lengthAdjust="spacingAndGlyphs">Cxcl1</text><text x="-31.95" y="-3.4" font-size="5.0" fill="#a0a0a0" textLength="4.25" lengthAdjust="spacingAndGlyphs">-/-</text><path d="M-26.80,-2.3 H-22.80" stroke="#231f20" stroke-width="0.75"/><path d="M-23.50,-3.5 L-21.20,-2.3 L-23.50,-1.0999999999999999Z" fill="#231f20"/><text x="-20.30" y="0" font-size="7.0" fill="#231f20" stroke="#231f20" stroke-width="0.15" textLength="15.75" lengthAdjust="spacingAndGlyphs">Cxcl1</text><text x="-4.25" y="-3.4" font-size="5.0" fill="#a0a0a0" textLength="4.25" lengthAdjust="spacingAndGlyphs">-/-</text></g>
</svg>
</body></html>
